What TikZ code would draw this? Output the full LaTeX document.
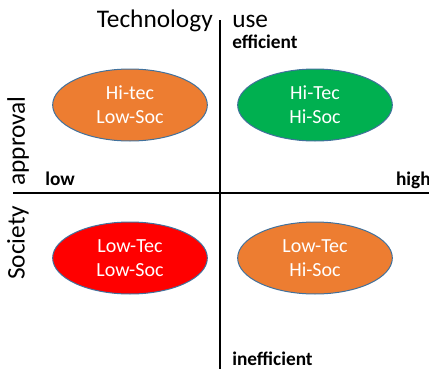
\documentclass[tikz,border=0pt]{standalone}
\usepackage{fontspec}
\setmainfont{Carlito}
\usetikzlibrary{shapes.geometric}
\definecolor{quadorange}{HTML}{ED7D31}
\definecolor{quadgreen}{HTML}{00B050}
\definecolor{quadred}{HTML}{FF0000}
\definecolor{quadedge}{HTML}{41719C}
\begin{document}
\begin{tikzpicture}[x=0.75pt, y=-0.75pt,
    quadrant/.style={ellipse, draw=quadedge, line width=0.75pt, minimum width=116pt, minimum height=54pt, inner sep=0pt, text=white, align=center, font=\fontsize{15}{18}\selectfont},
    axislabel/.style={font=\fontsize{19}{23}\selectfont, inner sep=0pt},
    endlabel/.style={font=\fontsize{14.5}{17}\selectfont\bfseries, inner sep=0pt},
    axisline/.style={line width=1.5pt}]
    \useasboundingbox (0,0) rectangle (429,371);
    % axes
    \coordinate (top) at (220,20);
    \coordinate (bottom) at (220,369);
    \coordinate (left) at (13,193);
    \coordinate (right) at (429,193);
    \draw[axisline] (top) -- (bottom);
    \draw[axisline] (left) -- (right);
    % axis titles
    \node[axislabel, anchor=base east] (technology) at (213,27) {Technology};
    \node[axislabel, anchor=base west] (use) at (232,27) {use};
    \node[axislabel, rotate=90] (approval) at (18,141) {approval};
    \node[axislabel, rotate=90] (society) at (18,243) {Society};
    % axis ends
    \node[endlabel, anchor=base west] (efficient) at (232,48) {efficient};
    \node[endlabel, anchor=base west] (inefficient) at (232,365) {inefficient};
    \node[endlabel, anchor=base west] (low) at (45,185) {low};
    \node[endlabel, anchor=base east] (high) at (431,185) {high};
    % quadrants
    \node[quadrant, fill=quadorange] (hitec) at (130,105) {Hi-tec\\Low-Soc};
    \node[quadrant, fill=quadgreen] (hihi) at (315,105) {Hi-Tec\\Hi-Soc};
    \node[quadrant, fill=quadred] (lowlow) at (130,258) {Low-Tec\\Low-Soc};
    \node[quadrant, fill=quadorange] (lowhi) at (315,258) {Low-Tec\\Hi-Soc};
\end{tikzpicture}
\end{document}
